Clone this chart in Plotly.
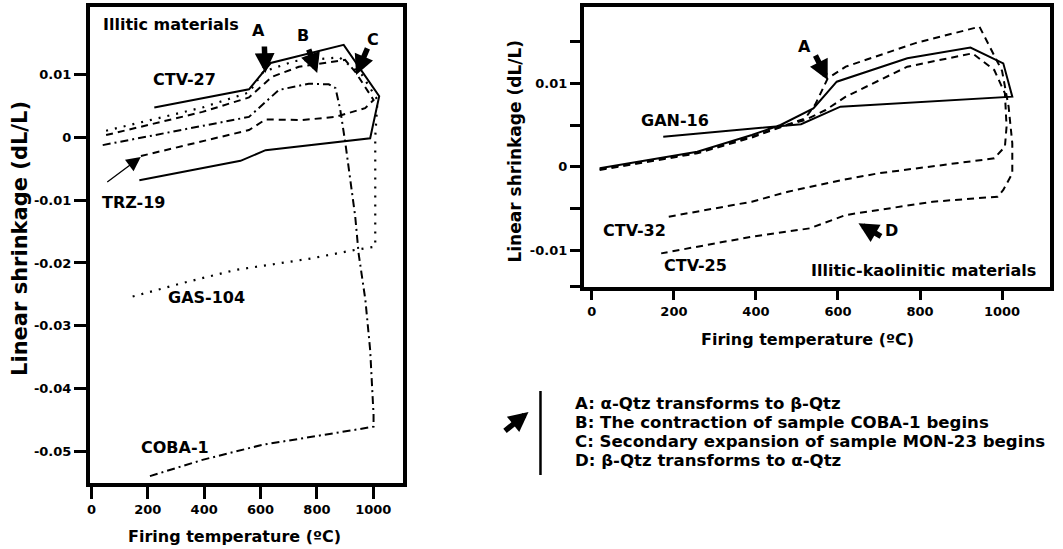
import plotly.graph_objects as go

# ---------------- data: left panel (Illitic materials) ----------------
ctv27_T = [223, 559, 636, 895, 1021, 989, 618, 529, 170]
ctv27_v = [0.0048, 0.0077, 0.0119, 0.0148, 0.0066, -0.0001, -0.0020, -0.0037, -0.0068]

trz19_T = [52, 394, 559, 641, 736, 900, 936, 1001, 971, 866, 748, 618, 559, 170]
trz19_v = [0.0004, 0.0041, 0.0064, 0.0097, 0.0113, 0.0124, 0.0105, 0.0060, 0.0047, 0.0033, 0.0028, 0.0029, 0.0012, -0.0030]

gas104_T = [52, 394, 559, 610, 720, 880, 960, 1015, 1007, 1007, 936, 777, 512, 323, 134]
gas104_v = [0.0011, 0.0048, 0.0072, 0.0105, 0.0122, 0.0128, 0.0100, 0.0060, 0.0001, -0.0174, -0.0179, -0.0193, -0.0211, -0.0232, -0.0255]

coba1_T = [40, 559, 665, 771, 842, 866, 883, 901, 936, 948, 972, 989, 1001, 1001, 936, 748, 606, 394, 200]
coba1_v = [-0.0012, 0.0033, 0.0076, 0.0086, 0.0085, 0.0079, 0.0044, -0.0009, -0.0126, -0.0185, -0.0259, -0.0339, -0.0442, -0.0461, -0.0466, -0.0480, -0.0490, -0.0514, -0.0541]

# ---------------- data: right panel (Illitic-kaolinitic materials) ----------------
gan16_T = [19, 187, 257, 390, 460, 540, 597, 769, 923, 1003, 1025, 606, 540, 510, 174]
gan16_v = [-0.0002, 0.0012, 0.0018, 0.0038, 0.0050, 0.0070, 0.0102, 0.0130, 0.0143, 0.0124, 0.0084, 0.0072, 0.0058, 0.0051, 0.0036]

ctv32_T = [19, 187, 257, 390, 460, 520, 570, 619, 769, 928, 981, 1007, 1011, 1007, 981, 698, 610, 478, 390, 187]
ctv32_v = [-0.0003, 0.0011, 0.0017, 0.0036, 0.0048, 0.0056, 0.0068, 0.0084, 0.0120, 0.0136, 0.0116, 0.0088, 0.0048, 0.0024, 0.0010, -0.0008, -0.0016, -0.0030, -0.0042, -0.0060]

ctv25_T = [19, 187, 257, 390, 460, 520, 545, 575, 619, 787, 945, 975, 1000, 1016, 1025, 1025, 1003, 989, 831, 619, 531, 390, 169]
ctv25_v = [-0.0004, 0.0010, 0.0016, 0.0035, 0.0047, 0.0058, 0.0075, 0.0106, 0.0120, 0.0148, 0.0168, 0.0138, 0.0115, 0.0072, 0.0028, -0.0008, -0.0028, -0.0036, -0.0042, -0.0058, -0.0074, -0.0084, -0.0104]

# ---------------- ticks ----------------
x_ticks = [0, 200, 400, 600, 800, 1000]
left_y_ticks = [-0.05, -0.04, -0.03, -0.02, -0.01, 0, 0.01]
left_y_text = ["-0.05", "-0.04", "-0.03", "-0.02", "-0.01", "0", "0.01"]
right_y_ticks = [-0.0144, -0.01, -0.005, 0, 0.005, 0.01, 0.015]
right_y_text = ["", "-0.01", "", "0", "", "0.01", ""]

legend_lines = [
    "A: α-Qtz transforms to β-Qtz",
    "B: The contraction of sample COBA-1 begins",
    "C: Secondary expansion of sample MON-23 begins",
    "D: β-Qtz transforms to α-Qtz",
]

FONT = "DejaVu Sans"
W, H = 1063, 549

fig = go.Figure()

def line(T, v, dash, xa, ya, width=2):
    fig.add_trace(go.Scatter(x=T, y=v, mode="lines", xaxis=xa, yaxis=ya,
                             line=dict(color="black", width=width, dash=dash),
                             hoverinfo="skip"))

DOT = "2px,7px"
DASH = "7px,5px"
DASHDOT = "8px,4px,2px,4px"

line(ctv27_T, ctv27_v, "solid", "x", "y")
line(trz19_T, trz19_v, DASH, "x", "y")
line(gas104_T, gas104_v, DOT, "x", "y", 2.2)
line(coba1_T, coba1_v, DASHDOT, "x", "y")

line(gan16_T, gan16_v, "solid", "x2", "y2")
line(ctv32_T, ctv32_v, DASH, "x2", "y2")
line(ctv25_T, ctv25_v, DASH, "x2", "y2")

axis_common = dict(showgrid=False, zeroline=False, showline=True, mirror=True,
                   linecolor="black", linewidth=3.5, ticks="outside",
                   tickcolor="black", tickwidth=3,
                   tickfont=dict(family=FONT, size=13, color="black", weight="bold"))

fig.update_layout(
    width=W, height=H, margin=dict(l=0, r=0, t=0, b=0),
    paper_bgcolor="white", plot_bgcolor="white", showlegend=False,
    xaxis=dict(domain=[87 / W, 401 / W], range=[-6, 1105], tickvals=x_ticks,
               ticklen=12, anchor="y", **axis_common),
    yaxis=dict(domain=[1 - 483 / H, 1 - 7 / H], range=[-0.05509, 0.02083],
               tickvals=left_y_ticks, ticktext=left_y_text, ticklen=12,
               anchor="x", **axis_common),
    xaxis2=dict(domain=[582.3 / W, 1050 / W], range=[-20, 1117], tickvals=x_ticks,
                ticklen=10, anchor="y2", **axis_common),
    yaxis2=dict(domain=[1 - 286.7 / H, 1 - 7 / H], range=[-0.0144, 0.01916],
                tickvals=right_y_ticks, ticktext=right_y_text, ticklen=10,
                anchor="x2", **axis_common),
)

ann = []

def txt(x, y, s, xref, yref, size=16, xanchor="center", yanchor="middle", angle=0):
    ann.append(dict(x=x, y=y, xref=xref, yref=yref, text=s, showarrow=False,
                    xanchor=xanchor, yanchor=yanchor, textangle=angle,
                    font=dict(family=FONT, size=size, color="black", weight="bold")))

def arrow(x, y, ax, ay, xref, yref, width=5.5, size=0.72, head=2):
    ann.append(dict(x=x, y=y, xref=xref, yref=yref, ax=ax, ay=ay,
                    axref="pixel", ayref="pixel", text="", showarrow=True,
                    arrowhead=head, arrowwidth=width, arrowsize=size,
                    arrowcolor="black"))

# left panel labels
txt(33, 0.01796, "Illitic materials", "x", "y", xanchor="left")
txt(593, 0.01716, "A", "x", "y")
txt(751, 0.01636, "B", "x", "y")
txt(999, 0.01557, "C", "x", "y")
txt(331, 0.00919, "CTV-27", "x", "y")
txt(149, -0.01035, "TRZ-19", "x", "y")
txt(408, -0.02553, "GAS-104", "x", "y")
txt(296, -0.04943, "COBA-1", "x", "y")
arrow(617, 0.0103, -1, -28, "x", "y")
arrow(801, 0.0103, -9, -25, "x", "y")
arrow(939, 0.0100, 12, -28, "x", "y")
arrow(175, -0.0031, -35, 26, "x", "y", width=1.3, size=2.2)

# right panel labels
txt(202, 0.0056, "GAN-16", "x2", "y2")
txt(103, -0.0076, "CTV-32", "x2", "y2")
txt(253, -0.0118, "CTV-25", "x2", "y2")
txt(518, 0.0144, "A", "x2", "y2")
txt(730, -0.0076, "D", "x2", "y2")
txt(1088, -0.0124, "Illitic-kaolinitic materials", "x2", "y2", xanchor="right")
arrow(575, 0.0104, -13, -26, "x2", "y2")
arrow(650, -0.0068, 24, 14, "x2", "y2")

# axis titles
txt(232 / W, 1 - 536 / H, "Firing temperature (ºC)", "paper", "paper", size=16)
txt(807 / W, 1 - 340 / H, "Firing temperature (ºC)", "paper", "paper", size=16)
txt(17 / W, 1 - 238 / H, "Linear shrinkage (dL/L)", "paper", "paper", size=21, angle=-90)
txt(513 / W, 1 - 151 / H, "Linear shrinkage (dL/L)", "paper", "paper", size=17, angle=-90)

# key
for i, s in enumerate(legend_lines):
    txt(572 / W, 1 - (403 + 19 * i) / H, s, "paper", "paper", size=16.6, xanchor="left")
arrow(527 / W, 1 - 412 / H, -25, 20, "paper", "paper")

fig.update_layout(annotations=ann)
fig.add_shape(type="line", xref="paper", yref="paper",
              x0=539 / W, x1=539 / W, y0=1 - 391 / H, y1=1 - 475 / H,
              line=dict(color="black", width=2.5))

fig.write_html("out.html")
